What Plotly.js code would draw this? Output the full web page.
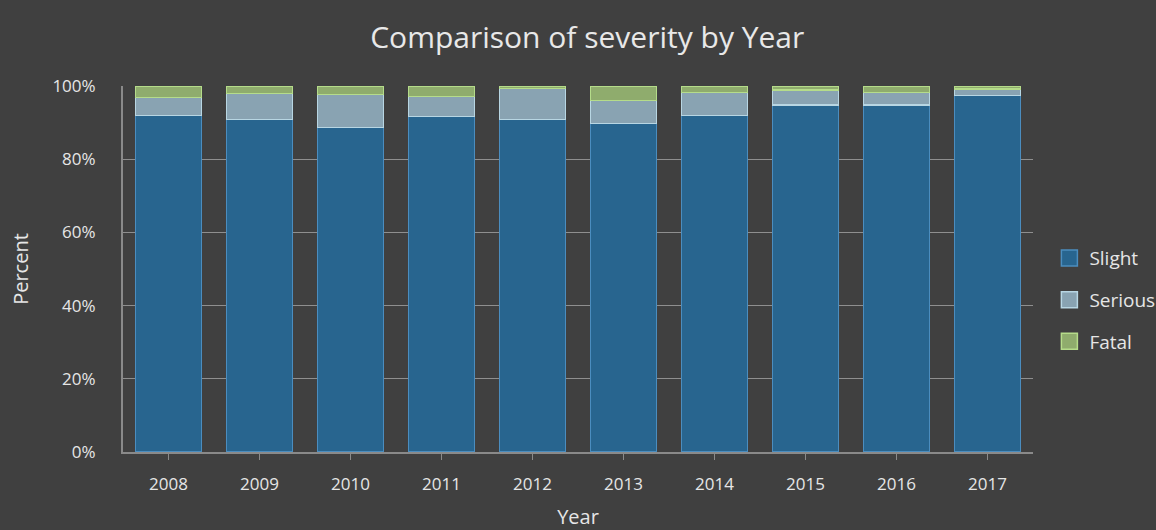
<!DOCTYPE html>
<html>
<head>
<meta charset="utf-8">
<script src="https://cdn.plot.ly/plotly-3.0.1.min.js"></script>
<style>html,body{margin:0;padding:0;background:#404040;}#chart{width:1156px;height:530px;}</style>
</head>
<body>
<div id="chart"></div>
<script>
const years = ['2008','2009','2010','2011','2012','2013','2014','2015','2016','2017'];
const slight = [91.9, 90.9, 88.6, 91.6, 90.9, 89.8, 92.0, 94.8, 94.8, 97.5];
const serious = [4.9, 7.0, 9.1, 5.6, 8.5, 6.2, 6.2, 4.1, 3.4, 1.7];
const fatal = [3.2, 2.1, 2.3, 2.8, 0.6, 4.0, 1.8, 1.1, 1.8, 0.8];
const yTickVals = [0, 20, 40, 60, 80, 100];
const yTickText = ['0%', '20%', '40%', '60%', '80%', '100%'];

const font = '"Open Sans", "Noto Sans", sans-serif';
const specs = [
  {name: 'Slight', y: slight, fill: '#28658f', line: '#4b8dbf', group: 'a'},
  {name: 'Serious', y: serious, fill: '#89a3b2', line: '#b8d6e3', group: 'b'},
  {name: 'Fatal', y: fatal, fill: '#8fac6d', line: '#b5dc8a', group: 'c'}
];
const traces = [];
specs.forEach(t => {
  traces.push({
    type: 'bar', x: years, y: t.y, name: t.name, legendgroup: t.group, showlegend: false,
    marker: {color: t.fill, line: {color: t.line, width: 1.2}},
    hoverinfo: 'x+y+name'
  });
});
specs.forEach(t => {
  traces.push({
    type: 'scatter', mode: 'markers', x: [null], y: [null], name: t.name, legendgroup: t.group,
    marker: {symbol: 'square', size: 16, color: t.fill, line: {color: t.line, width: 1.5}},
    hoverinfo: 'skip'
  });
});

const layout = {
  width: 1156, height: 530,
  paper_bgcolor: '#404040', plot_bgcolor: '#404040',
  margin: {l: 123, r: 123, t: 86, b: 78, autoexpand: false},
  barmode: 'stack', bargap: 0.27,
  title: {text: 'Comparison of severity by Year', x: 0.508, xanchor: 'center', y: 0.93, yanchor: 'middle',
          font: {family: font, size: 30, color: '#e8e8e8'}},
  xaxis: {
    type: 'category', showgrid: false, showline: true, linecolor: '#8a8a8a', linewidth: 2,
    ticks: 'outside', ticklen: 6, tickcolor: '#8a8a8a', tickwidth: 1,
    ticklabelstandoff: 10,
    tickfont: {family: font, size: 17, color: '#e6e6e6'},
    title: {text: 'Year', standoff: 25, font: {family: font, size: 20, color: '#e6e6e6'}},
    automargin: false
  },
  yaxis: {
    range: [0, 100], tickvals: yTickVals, ticktext: yTickText,
    showgrid: true, gridcolor: '#8f8f8f', gridwidth: 1,
    showline: true, linecolor: '#8a8a8a', linewidth: 2, zeroline: false,
    ticks: '', ticklabelstandoff: 22,
    tickfont: {family: font, size: 17, color: '#e6e6e6'},
    title: {text: 'Percent', standoff: 18, font: {family: font, size: 20, color: '#e6e6e6'}},
    automargin: false
  },
  legend: {
    x: 1.018, xanchor: 'left', y: 0.415, yanchor: 'middle',
    traceorder: 'grouped', tracegroupgap: 14, itemsizing: 'trace',
    font: {family: font, size: 19, color: '#e6e6e6'},
    bgcolor: 'rgba(0,0,0,0)', itemwidth: 30
  },
  showlegend: true
};

Plotly.newPlot('chart', traces, layout, {displayModeBar: false, staticPlot: true});
</script>
</body>
</html>
